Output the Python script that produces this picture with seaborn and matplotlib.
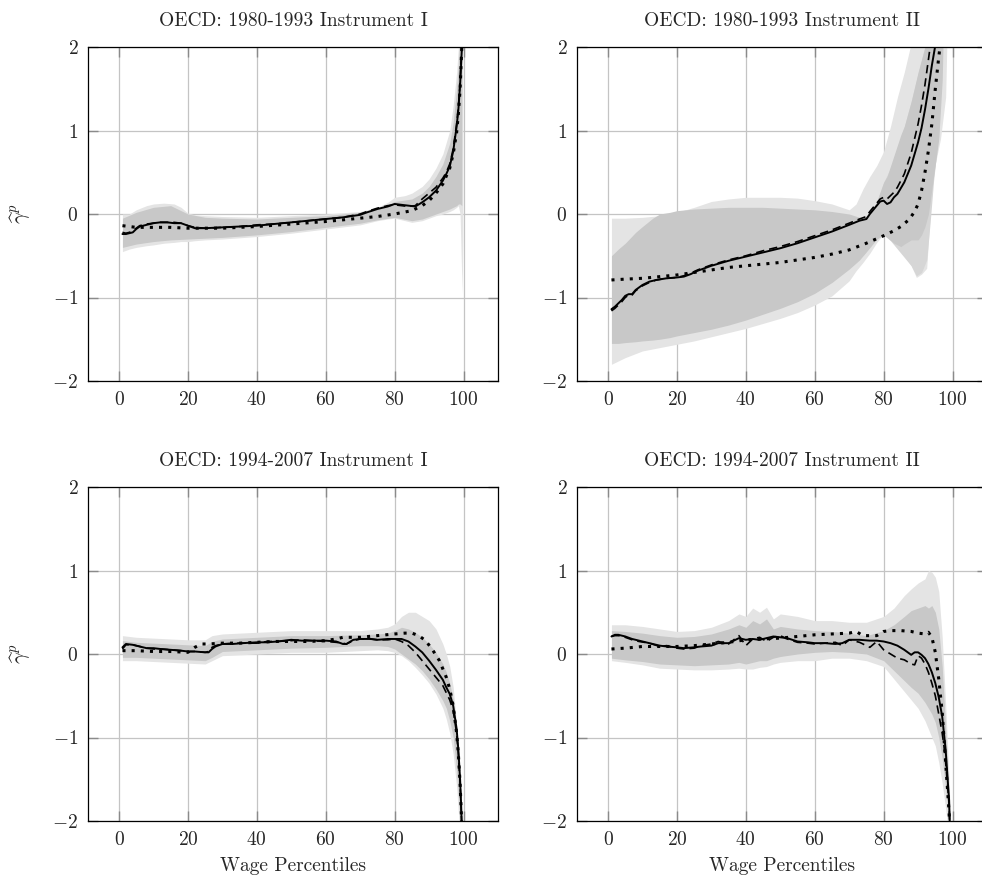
import matplotlib
matplotlib.use("Agg")
import matplotlib.pyplot as plt
import seaborn as sns
import numpy as np
import pandas as pd

# ---------------- data ----------------
titles = ["OECD: 1980-1993 Instrument I", "OECD: 1980-1993 Instrument II",
          "OECD: 1994-2007 Instrument I", "OECD: 1994-2007 Instrument II"]
x_ticks = [0, 20, 40, 60, 80, 100]
y_ticks = [-2, -1, 0, 1, 2]

# Panel 1
p1_solid_x = [1,2,3,4,5,6,8,10,12,14,16,18,20,22,25,30,35,40,45,50,55,60,65,70,72,75,78,80,82,84,86,88,90,92,94,95,96,97,98,98.5,99,99.3,99.6,99.8]
p1_solid_y = [-0.24,-0.24,-0.23,-0.22,-0.18,-0.15,-0.13,-0.11,-0.10,-0.10,-0.11,-0.11,-0.14,-0.17,-0.17,-0.16,-0.15,-0.14,-0.12,-0.10,-0.08,-0.06,-0.04,-0.01,0.02,0.06,0.09,0.12,0.11,0.10,0.09,0.14,0.20,0.28,0.40,0.48,0.57,0.75,1.05,1.25,1.55,1.80,2.05,2.3]
p1_dash_x = [1,2,3,4,5,6,8,10,12,14,16,18,20,22,25,30,35,40,45,50,55,60,65,70,72,75,78,80,82,84,86,88,90,92,94,95,96,97,98,98.5,99,99.3,99.6,99.8]
p1_dash_y = [-0.22,-0.23,-0.22,-0.20,-0.17,-0.14,-0.12,-0.11,-0.10,-0.10,-0.10,-0.11,-0.14,-0.16,-0.17,-0.16,-0.15,-0.13,-0.12,-0.10,-0.08,-0.06,-0.04,0.0,0.03,0.07,0.10,0.11,0.10,0.09,0.10,0.18,0.25,0.32,0.43,0.50,0.60,0.78,1.08,1.28,1.58,1.85,2.1,2.3]
p1_dot_x = [1,5,10,15,20,25,30,40,50,60,70,75,80,85,88,90,92,94,96,97,98,98.5,99,99.3,99.6,99.8]
p1_dot_y = [-0.14,-0.16,-0.16,-0.16,-0.17,-0.17,-0.17,-0.15,-0.12,-0.09,-0.05,-0.03,0.0,0.04,0.10,0.16,0.25,0.36,0.55,0.72,0.98,1.2,1.5,1.8,2.1,2.4]
p1_light_x = [1,3,5,8,10,13,16,18,20,22,25,30,40,50,60,70,75,78,80,83,85,88,90,92,94,96,97,98,98.5,99,99.3,99.6,99.8]
p1_light_hi = [0.0,0.0,0.05,0.10,0.12,0.13,0.12,0.08,0.01,-0.01,-0.02,-0.03,-0.04,-0.02,0.0,0.03,0.08,0.14,0.20,0.22,0.25,0.33,0.42,0.55,0.72,1.0,1.3,1.7,2.0,2.2,2.4,2.5,2.5]
p1_light_lo = [-0.45,-0.42,-0.40,-0.38,-0.37,-0.35,-0.34,-0.33,-0.33,-0.32,-0.31,-0.30,-0.27,-0.23,-0.18,-0.13,-0.08,-0.06,-0.05,-0.08,-0.10,-0.08,-0.05,-0.02,0.0,0.03,0.05,0.08,0.10,0.0,-0.5,-0.95,-0.3]
p1_dark_x = [1,5,10,15,20,25,30,40,50,60,70,75,80,85,88,90,92,94,96,97,98,98.5,99,99.5]
p1_dark_hi = [-0.05,0.02,0.08,0.10,0.0,-0.04,-0.05,-0.06,-0.04,-0.02,0.02,0.06,0.15,0.18,0.25,0.33,0.45,0.6,0.85,1.1,1.5,1.8,2.2,2.5]
p1_dark_lo = [-0.40,-0.36,-0.33,-0.31,-0.30,-0.29,-0.28,-0.25,-0.21,-0.16,-0.11,-0.07,-0.04,-0.08,-0.06,-0.03,0.0,0.03,0.06,0.08,0.10,0.12,0.12,0.10]

# Panel 2
p2_solid_x = [1,2,3,4,5,6,7,8,9,10,12,14,17,20,22,24,26,30,35,40,45,50,55,60,65,70,73,75,76,78,79,80,81,82,83,84,86,88,90,91,92,93,94,95,95.5]
p2_solid_y = [-1.14,-1.11,-1.07,-1.03,-0.98,-0.96,-0.96,-0.91,-0.88,-0.85,-0.81,-0.79,-0.77,-0.76,-0.75,-0.72,-0.68,-0.62,-0.56,-0.51,-0.46,-0.41,-0.35,-0.28,-0.21,-0.13,-0.08,-0.06,0.0,0.10,0.15,0.16,0.12,0.14,0.20,0.24,0.38,0.58,0.86,1.03,1.25,1.50,1.78,2.02,2.2]
p2_dash_x = [1,2,3,4,5,6,7,8,9,10,12,14,17,20,22,24,26,30,35,40,45,50,55,60,65,70,73,75,76,78,79,80,81,82,83,84,86,88,90,91,92,93,93.5,94]
p2_dash_y = [-1.16,-1.13,-1.09,-1.05,-1.0,-0.97,-0.97,-0.92,-0.89,-0.86,-0.82,-0.79,-0.77,-0.76,-0.74,-0.71,-0.67,-0.61,-0.55,-0.50,-0.44,-0.39,-0.33,-0.26,-0.19,-0.11,-0.06,-0.03,0.03,0.13,0.18,0.20,0.18,0.22,0.26,0.32,0.48,0.73,1.08,1.30,1.55,1.85,2.0,2.2]
p2_dot_x = [1,5,10,15,20,25,30,35,40,45,50,55,60,65,70,75,80,83,85,87,88,89,90,91,92,93,94,95,96,96.5,97]
p2_dot_y = [-0.79,-0.78,-0.77,-0.75,-0.73,-0.70,-0.67,-0.64,-0.62,-0.60,-0.58,-0.55,-0.52,-0.48,-0.43,-0.35,-0.26,-0.20,-0.15,-0.08,-0.03,0.03,0.12,0.28,0.50,0.76,1.08,1.50,1.88,2.05,2.3]
p2_light_x = [1,5,10,15,20,25,30,35,40,45,50,55,60,65,70,72,74,76,78,80,82,84,86,88,89.5,91,92.5,93.5,94.5,96.5,98,98.6]
p2_light_hi = [-0.05,-0.05,-0.04,-0.02,0.02,0.08,0.15,0.18,0.20,0.20,0.20,0.19,0.16,0.12,0.05,0.12,0.30,0.45,0.58,0.75,1.05,1.40,1.70,2.05,2.5,2.5,2.5,2.5,2.5,2.5,2.5,2.5]
p2_light_lo = [-1.80,-1.72,-1.64,-1.60,-1.56,-1.52,-1.47,-1.42,-1.37,-1.31,-1.25,-1.18,-1.09,-0.98,-0.80,-0.68,-0.58,-0.47,-0.34,-0.24,-0.30,-0.40,-0.50,-0.62,-0.76,-0.72,-0.65,0.0,0.50,0.90,1.40,2.5]
p2_mid_x = [74,76,78,80,82,84,86,88,89.5,91,92.5,93.5,94.5,96,97]
p2_mid_hi = [-0.05,0.0,0.15,0.38,0.55,0.80,1.05,1.35,1.60,1.85,2.1,2.5,2.5,2.5,2.5]
p2_mid_lo = [-0.50,-0.40,-0.30,-0.25,-0.32,-0.42,-0.52,-0.62,-0.74,-0.70,-0.55,-0.10,0.40,0.95,2.5]
p2_dark_x = [1,3,5,8,10,13,15,18,20,25,30,35,40,45,50,55,60,65,70,73,74,76,78,80,81,83,85,86,88,90,91,92,93,94,95,96,97,97.5]
p2_dark_hi = [-0.50,-0.42,-0.35,-0.22,-0.15,-0.05,0.0,0.02,0.04,0.06,0.07,0.08,0.08,0.08,0.07,0.06,0.05,0.03,0.0,-0.04,-0.05,0.0,0.15,0.38,0.45,0.70,0.95,1.05,1.35,1.70,1.85,2.0,2.5,2.5,2.5,2.5,2.5,2.5]
p2_dark_lo = [-1.55,-1.55,-1.54,-1.53,-1.52,-1.51,-1.50,-1.48,-1.46,-1.42,-1.38,-1.33,-1.27,-1.20,-1.13,-1.05,-0.95,-0.82,-0.66,-0.55,-0.50,-0.40,-0.30,-0.25,-0.28,-0.35,-0.39,-0.36,-0.31,-0.31,-0.25,-0.15,0.0,0.30,0.60,0.90,1.60,2.5]

# Panel 3
p3_solid_x = [1,2,4,6,8,10,12,15,18,20,22,25,26,27,28,30,33,36,40,43,46,50,53,56,60,63,65,66,68,70,73,75,78,80,82,84,86,88,90,92,93,94,95,96,97,98,98.5,99,99.3,99.6]
p3_solid_y = [0.08,0.12,0.11,0.09,0.07,0.07,0.06,0.05,0.04,0.03,0.03,0.02,0.02,0.06,0.09,0.12,0.12,0.13,0.14,0.14,0.15,0.17,0.16,0.16,0.16,0.15,0.12,0.12,0.17,0.18,0.18,0.17,0.18,0.18,0.18,0.15,0.09,0.02,-0.08,-0.19,-0.25,-0.31,-0.40,-0.48,-0.62,-0.90,-1.15,-1.50,-1.80,-2.2]
p3_dash_x = [1,2,4,6,8,10,12,15,18,20,22,25,26,27,28,30,33,36,40,43,46,50,53,56,60,63,65,66,68,70,73,75,78,80,82,84,86,88,90,92,94,96,97,98,98.5,99,99.3,99.6]
p3_dash_y = [0.06,0.11,0.11,0.09,0.07,0.06,0.06,0.05,0.04,0.03,0.03,0.02,0.03,0.08,0.10,0.12,0.13,0.13,0.13,0.15,0.15,0.16,0.17,0.16,0.15,0.14,0.13,0.12,0.16,0.18,0.18,0.17,0.17,0.18,0.15,0.10,0.02,-0.08,-0.18,-0.28,-0.38,-0.55,-0.68,-0.95,-1.2,-1.55,-1.85,-2.2]
p3_dot_x = [1,5,10,15,20,22,24,26,30,35,40,45,50,55,60,63,65,70,75,80,83,85,87,89,91,93,95,96,97,98,98.5,99,99.3,99.6]
p3_dot_y = [0.04,0.04,0.03,0.03,0.02,0.08,0.12,0.12,0.13,0.13,0.14,0.15,0.15,0.15,0.16,0.18,0.20,0.20,0.22,0.24,0.25,0.25,0.22,0.16,0.05,-0.08,-0.28,-0.42,-0.62,-0.95,-1.2,-1.55,-1.85,-2.2]
p3_band_x = [1,5,10,15,20,25,27,30,40,50,60,70,75,78,80,82,84,86,88,90,92,94,95,96,97,98,99,99.5]
p3_light_hi = [0.22,0.20,0.19,0.18,0.17,0.17,0.22,0.24,0.26,0.28,0.28,0.28,0.30,0.32,0.36,0.45,0.50,0.50,0.45,0.40,0.30,0.12,0.0,-0.15,-0.40,-0.85,-1.6,-2.2]
p3_light_lo = [-0.08,-0.08,-0.09,-0.10,-0.11,-0.12,-0.08,-0.02,0.0,0.02,0.02,0.04,0.05,0.04,0.02,-0.02,-0.08,-0.16,-0.25,-0.35,-0.48,-0.65,-0.78,-0.95,-1.2,-1.6,-2.2,-2.5]
p3_dark_hi = [0.16,0.14,0.13,0.12,0.11,0.10,0.15,0.18,0.20,0.22,0.22,0.23,0.24,0.25,0.28,0.32,0.30,0.26,0.20,0.12,0.02,-0.12,-0.22,-0.35,-0.55,-0.95,-1.7,-2.3]
p3_dark_lo = [-0.04,-0.04,-0.05,-0.06,-0.07,-0.08,-0.04,0.03,0.05,0.07,0.08,0.10,0.10,0.09,0.06,0.00,-0.06,-0.12,-0.20,-0.30,-0.42,-0.56,-0.65,-0.80,-1.0,-1.4,-2.0,-2.4]

# Panel 4
p4_solid_x = [1,2,3,5,7,9,12,15,17,20,22,25,27,30,32,35,38,40,42,44,46,48,50,52,55,58,60,63,66,68,70,73,76,78,80,82,84,86,88,89,90,91,92,93,94,95,96,97,97.5,98,98.5,99,99.3]
p4_solid_y = [0.21,0.23,0.23,0.21,0.18,0.16,0.13,0.10,0.09,0.08,0.07,0.08,0.09,0.10,0.13,0.13,0.19,0.17,0.18,0.17,0.19,0.21,0.20,0.19,0.15,0.14,0.13,0.13,0.12,0.13,0.17,0.17,0.16,0.16,0.15,0.13,0.10,0.05,-0.01,0.02,0.02,-0.01,-0.05,-0.12,-0.22,-0.35,-0.52,-0.75,-0.95,-1.15,-1.45,-1.75,-2.2]
p4_dash_x = [1,2,3,5,7,9,12,15,17,20,22,25,27,30,32,35,38,40,42,44,46,48,50,52,55,58,60,63,66,68,70,73,76,78,80,82,84,86,88,89,90,91,92,93,94,95,96,97,97.5,98,98.5,99,99.3]
p4_dash_y = [0.21,0.22,0.22,0.20,0.17,0.15,0.13,0.09,0.10,0.07,0.06,0.07,0.10,0.12,0.15,0.12,0.22,0.10,0.18,0.20,0.15,0.20,0.22,0.18,0.14,0.13,0.12,0.13,0.14,0.10,0.17,0.14,0.08,0.15,0.05,0.00,-0.05,-0.07,-0.12,-0.13,-0.02,-0.05,-0.12,-0.22,-0.35,-0.50,-0.72,-0.95,-1.10,-1.30,-1.55,-1.80,-2.2]
p4_dot_x = [1,5,10,15,20,25,30,35,40,45,50,55,60,65,70,72,74,76,78,80,82,85,88,90,92,93,94,95,96,97,98,98.5,99,99.3]
p4_dot_y = [0.06,0.07,0.09,0.09,0.09,0.10,0.12,0.14,0.17,0.18,0.19,0.21,0.23,0.24,0.25,0.27,0.22,0.22,0.22,0.27,0.28,0.28,0.27,0.25,0.24,0.26,0.20,0.02,-0.30,-0.70,-1.30,-1.60,-1.90,-2.2]
p4_band_x = [1,5,10,15,20,25,30,35,38,40,42,44,46,48,50,55,60,65,70,75,80,83,86,88,90,92,93,94,95,96,97,98,99,99.5]
p4_light_hi = [0.35,0.35,0.33,0.30,0.27,0.28,0.32,0.40,0.48,0.45,0.55,0.50,0.56,0.42,0.48,0.45,0.40,0.40,0.38,0.38,0.45,0.55,0.70,0.78,0.85,0.90,1.0,0.98,0.92,0.75,0.2,-0.6,-1.5,-2.2]
p4_light_lo = [-0.08,-0.10,-0.13,-0.17,-0.18,-0.19,-0.19,-0.18,-0.17,-0.18,-0.18,-0.16,-0.15,-0.12,-0.10,-0.08,-0.08,-0.05,-0.05,-0.08,-0.15,-0.30,-0.45,-0.55,-0.65,-0.80,-0.90,-1.00,-1.10,-1.30,-1.55,-1.85,-2.2,-2.5]
p4_dark_hi = [0.28,0.27,0.25,0.22,0.20,0.21,0.24,0.30,0.35,0.32,0.40,0.36,0.42,0.30,0.33,0.30,0.28,0.27,0.25,0.22,0.28,0.35,0.45,0.52,0.55,0.58,0.55,0.58,0.50,0.30,-0.15,-0.9,-1.7,-2.3]
p4_dark_lo = [-0.05,-0.07,-0.09,-0.12,-0.13,-0.14,-0.13,-0.12,-0.10,-0.12,-0.10,-0.08,-0.08,-0.05,-0.03,0.0,0.02,0.03,0.02,0.0,-0.08,-0.20,-0.32,-0.40,-0.47,-0.58,-0.65,-0.72,-0.82,-1.00,-1.25,-1.60,-2.0,-2.4]

panels = [
    dict(solid=(p1_solid_x, p1_solid_y), dash=(p1_dash_x, p1_dash_y), dot=(p1_dot_x, p1_dot_y),
         bands=[(p1_light_x, p1_light_lo, p1_light_hi, "light"), (p1_dark_x, p1_dark_lo, p1_dark_hi, "dark")]),
    dict(solid=(p2_solid_x, p2_solid_y), dash=(p2_dash_x, p2_dash_y), dot=(p2_dot_x, p2_dot_y),
         bands=[(p2_light_x, p2_light_lo, p2_light_hi, "light"), (p2_mid_x, p2_mid_lo, p2_mid_hi, "mid"),
                (p2_dark_x, p2_dark_lo, p2_dark_hi, "dark")]),
    dict(solid=(p3_solid_x, p3_solid_y), dash=(p3_dash_x, p3_dash_y), dot=(p3_dot_x, p3_dot_y),
         bands=[(p3_band_x, p3_light_lo, p3_light_hi, "light"), (p3_band_x, p3_dark_lo, p3_dark_hi, "dark")]),
    dict(solid=(p4_solid_x, p4_solid_y), dash=(p4_dash_x, p4_dash_y), dot=(p4_dot_x, p4_dot_y),
         bands=[(p4_band_x, p4_light_lo, p4_light_hi, "light"), (p4_band_x, p4_dark_lo, p4_dark_hi, "dark")]),
]

# ---------------- style ----------------
sns.set_style("white")
plt.rcParams.update({
    "font.family": "serif",
    "font.serif": ["cmr10", "DejaVu Serif"],
    "mathtext.fontset": "cm",
    "axes.formatter.use_mathtext": True,
    "font.size": 14,
    "axes.unicode_minus": True,
})

W, H = 982, 886
fig = plt.figure(figsize=(W / 100, H / 100), dpi=100)
ax_w = 410 / W
ax_h = 334 / H
positions = [(88 / W, 1 - 381 / H), (577 / W, 1 - 381 / H),
             (88 / W, 1 - 821 / H), (577 / W, 1 - 821 / H)]

SHADES = {"light": "#e4e4e4", "mid": "#d6d6d6", "dark": "#c8c8c8"}

for i, (pos, p) in enumerate(zip(positions, panels)):
    ax = fig.add_axes([pos[0], pos[1], ax_w, ax_h])
    ax.grid(True, color="#c4c4c4", lw=0.9, zorder=0)
    ax.set_axisbelow(True)
    for k, (bx, blo, bhi, shade) in enumerate(p["bands"]):
        ax.fill_between(bx, blo, bhi, color=SHADES[shade], lw=0, zorder=1 + 0.1 * k)

    df_s = pd.DataFrame({"x": p["solid"][0], "y": p["solid"][1]})
    df_d = pd.DataFrame({"x": p["dash"][0], "y": p["dash"][1]})
    df_o = pd.DataFrame({"x": p["dot"][0], "y": p["dot"][1]})
    sns.lineplot(data=df_d, x="x", y="y", ax=ax, color="black", lw=1.2,
                 linestyle=(0, (5, 3)), estimator=None, sort=False, zorder=3)
    sns.lineplot(data=df_s, x="x", y="y", ax=ax, color="black", lw=1.4,
                 estimator=None, sort=False, zorder=3)
    sns.lineplot(data=df_o, x="x", y="y", ax=ax, color="black", lw=2.2,
                 linestyle=(0, (1, 2)), estimator=None, sort=False, zorder=3,
                 dash_capstyle="butt")

    ax.set_xlim(-9, 110)
    ax.set_ylim(-2, 2)
    ax.set_xticks(x_ticks)
    ax.set_yticks(y_ticks)
    ax.tick_params(direction="in", length=7, width=1, color="#8a8a8a",
                   top=True, right=True, bottom=True, left=True,
                   labelsize=14, pad=7)
    for s in ax.spines.values():
        s.set_color("black")
        s.set_linewidth(0.9)
        s.set_visible(True)
    ax.set_title(titles[i], fontsize=14, pad=15)
    if i in (0, 2):
        ax.set_ylabel(r"$\widehat{\gamma}^p$", fontsize=15, labelpad=14)
    else:
        ax.set_ylabel("")
    if i in (2, 3):
        ax.set_xlabel("Wage Percentiles", fontsize=14, labelpad=6)
    else:
        ax.set_xlabel("")

fig.savefig("out.png", dpi=100)
